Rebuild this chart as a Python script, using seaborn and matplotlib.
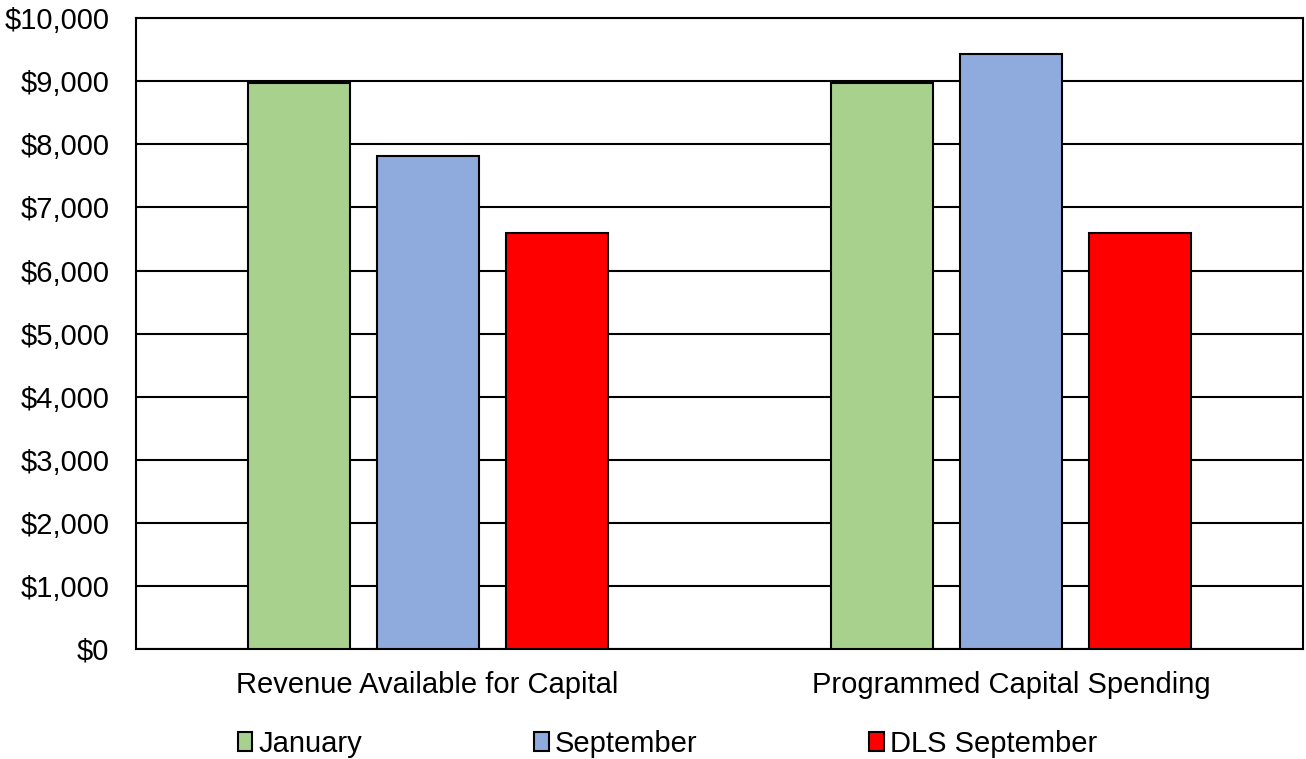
import pandas as pd
import seaborn as sns
import matplotlib.pyplot as plt
from matplotlib.ticker import FuncFormatter

categorias = ['Revenue Available for Capital', 'Programmed Capital Spending']
series = ['January', 'September', 'DLS September']
january = [8980, 8980]
september = [7820, 9440]
dls_september = [6600, 6600]
cores = ['#a9d18e', '#8faadc', '#ff0000']

df = pd.DataFrame({
    'Categoria': categorias * 3,
    'Serie': [series[0]] * 2 + [series[1]] * 2 + [series[2]] * 2,
    'Valor': january + september + dls_september,
})

sns.set_theme(style='white')
plt.rcParams['font.family'] = ['Liberation Sans', 'DejaVu Sans']

fig, ax = plt.subplots(figsize=(13.06, 7.59), dpi=100)
fig.subplots_adjust(left=0.104, right=0.9977, top=0.976, bottom=0.145)

sns.barplot(data=df, x='Categoria', y='Valor', hue='Serie', hue_order=series,
            palette=cores, saturation=1, width=0.663, gap=0.208,
            edgecolor='black', linewidth=1.5, ax=ax, zorder=3)

ax.set_ylim(0, 10000)
ax.set_yticks(range(0, 10001, 1000))
ax.yaxis.set_major_formatter(FuncFormatter(lambda v, p: f'${v:,.0f}'))
ax.grid(axis='y', color='black', linewidth=1.5, zorder=0)
ax.set_axisbelow(True)
for s in ax.spines.values():
    s.set_color('black')
    s.set_linewidth(1.5)
ax.tick_params(axis='both', length=0, labelsize=21, colors='black')
ax.tick_params(axis='y', pad=19)
ax.tick_params(axis='x', pad=16)
ax.set_xlabel('')
ax.set_ylabel('')

ax.legend(loc='center', bbox_to_anchor=(0.511, 0.020), bbox_transform=fig.transFigure,
          ncol=3, frameon=False, fontsize=21, labelcolor='black',
          handlelength=0.5, handleheight=0.6, handletextpad=0.2,
          columnspacing=5.9)

plt.savefig('out.png', dpi=100)
